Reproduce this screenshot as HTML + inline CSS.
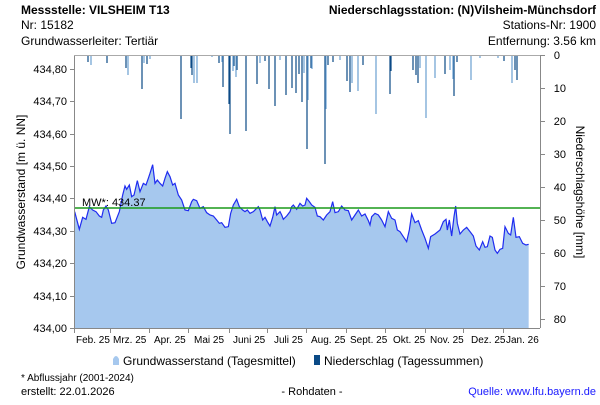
<!DOCTYPE html>
<html><head><meta charset="utf-8"><style>
body{margin:0;background:#fff;width:600px;height:400px;overflow:hidden;font-family:"Liberation Sans",Arial,sans-serif}
</style></head><body>
<svg width="600" height="400" xmlns="http://www.w3.org/2000/svg" font-family="Liberation Sans, Arial, sans-serif" font-size="11">
<text x="21" y="14" font-size="12" font-weight="bold">Messstelle: VILSHEIM T13</text>
<text x="21" y="29" font-size="12">Nr: 15182</text>
<text x="21" y="45" font-size="12">Grundwasserleiter: Tertiär</text>
<text x="596" y="14" font-size="12" font-weight="bold" text-anchor="end">Niederschlagsstation: (N)Vilsheim-Münchsdorf</text>
<text x="596" y="29" font-size="12" text-anchor="end">Stations-Nr: 1900</text>
<text x="596" y="45" font-size="12" text-anchor="end">Entfernung: 3.56 km</text>

<!-- area -->
<g transform="translate(60,130) scale(0.3333333)">
<path fill="#a6c8ee" stroke="none" d="M44,245 L58,298 L68,262 L78,268 L88,230 L98,240 L108,245 L118,258 L125,262 L130,240 L138,228 L145,240 L155,280 L165,278 L178,245 L188,195 L195,168 L200,178 L208,165 L215,200 L222,195 L232,152 L240,185 L250,160 L258,165 L265,145 L270,130 L278,104 L285,160 L292,150 L300,160 L308,168 L315,145 L322,125 L330,140 L338,165 L345,160 L355,195 L365,210 L375,240 L385,242 L395,215 L400,208 L410,212 L420,235 L430,230 L440,248 L450,255 L460,258 L470,270 L478,280 L485,278 L495,292 L505,290 L512,250 L520,225 L530,208 L538,230 L548,240 L555,245 L562,240 L570,250 L580,245 L590,235 L595,230 L600,240 L608,270 L615,262 L622,275 L630,288 L638,262 L645,230 L650,255 L660,245 L665,255 L670,268 L680,258 L690,245 L695,230 L700,225 L710,238 L720,220 L728,228 L735,225 L740,205 L748,215 L755,225 L765,232 L772,258 L780,260 L790,270 L800,255 L810,245 L818,215 L825,248 L835,245 L845,228 L855,240 L865,242 L875,270 L885,255 L895,240 L905,258 L915,252 L925,272 L930,285 L935,260 L945,250 L955,255 L965,270 L975,290 L985,245 L995,265 L1005,270 L1012,300 L1020,305 L1030,320 L1040,335 L1048,300 L1055,252 L1065,278 L1075,272 L1085,300 L1095,325 L1105,355 L1112,320 L1125,312 L1140,300 L1150,275 L1158,268 L1162,300 L1168,270 L1175,318 L1182,260 L1187,228 L1192,280 L1200,312 L1210,300 L1220,292 L1230,305 L1240,318 L1248,348 L1258,360 L1268,335 L1275,352 L1282,350 L1290,318 L1297,322 L1305,360 L1312,370 L1320,358 L1328,355 L1335,290 L1345,310 L1352,315 L1360,262 L1368,322 L1378,320 L1388,340 L1398,345 L1406,343 L1406,594 L44,594 Z"/>
<path fill="none" stroke="#1f2cf0" stroke-width="1.2" vector-effect="non-scaling-stroke" d="M44,245 L58,298 L68,262 L78,268 L88,230 L98,240 L108,245 L118,258 L125,262 L130,240 L138,228 L145,240 L155,280 L165,278 L178,245 L188,195 L195,168 L200,178 L208,165 L215,200 L222,195 L232,152 L240,185 L250,160 L258,165 L265,145 L270,130 L278,104 L285,160 L292,150 L300,160 L308,168 L315,145 L322,125 L330,140 L338,165 L345,160 L355,195 L365,210 L375,240 L385,242 L395,215 L400,208 L410,212 L420,235 L430,230 L440,248 L450,255 L460,258 L470,270 L478,280 L485,278 L495,292 L505,290 L512,250 L520,225 L530,208 L538,230 L548,240 L555,245 L562,240 L570,250 L580,245 L590,235 L595,230 L600,240 L608,270 L615,262 L622,275 L630,288 L638,262 L645,230 L650,255 L660,245 L665,255 L670,268 L680,258 L690,245 L695,230 L700,225 L710,238 L720,220 L728,228 L735,225 L740,205 L748,215 L755,225 L765,232 L772,258 L780,260 L790,270 L800,255 L810,245 L818,215 L825,248 L835,245 L845,228 L855,240 L865,242 L875,270 L885,255 L895,240 L905,258 L915,252 L925,272 L930,285 L935,260 L945,250 L955,255 L965,270 L975,290 L985,245 L995,265 L1005,270 L1012,300 L1020,305 L1030,320 L1040,335 L1048,300 L1055,252 L1065,278 L1075,272 L1085,300 L1095,325 L1105,355 L1112,320 L1125,312 L1140,300 L1150,275 L1158,268 L1162,300 L1168,270 L1175,318 L1182,260 L1187,228 L1192,280 L1200,312 L1210,300 L1220,292 L1230,305 L1240,318 L1248,348 L1258,360 L1268,335 L1275,352 L1282,350 L1290,318 L1297,322 L1305,360 L1312,370 L1320,358 L1328,355 L1335,290 L1345,310 L1352,315 L1360,262 L1368,322 L1378,320 L1388,340 L1398,345 L1406,343"/>
</g>

<!-- precipitation bars -->
<g stroke-width="1.2">
<g stroke="#0b4a86">
<path d="M88,55V62 M107,55V63 M126,55V68 M142,55V89 M147,55V64 M181,55V119 M191,55V68 M192,55V75 M219,55V63 M223,55V87 M229,55V104 M230,55V134 M234,55V66 M237,55V70 M246,55V131 M257,55V84 M265,55V61 M269,55V89 M275,55V106 M286,55V95 M292,55V88 M296,55V93 M299,55V74 M302,55V102 M307,55V149 M311,55V68 M325,55V164 M328,55V65 M333,55V62 M347,55V81 M350,55V92 M363,55V65 M390,55V94 M391,55V71 M413,55V70 M416,55V75 M418,55V83 M445,55V74 M454,55V96 M457,55V62 M504,55V61 M515,55V70 M517,55V80"/>
</g>
<g stroke="#6a9fd0">
<path d="M91,55V65 M128,55V75 M144,55V63 M150,55V59 M194,55V83 M233,55V71 M236,55V77 M260,55V63 M280,55V60 M304,55V73 M308,55V100 M312,55V69 M326,55V109 M352,55V83 M358,55V91 M376,55V114 M426,55V118 M435,55V78 M453,55V79 M471,55V80 M512,55V83 M420,55V68 M450,55V70 M197,55V83 M212,55V57 M222,55V62 M340,55V60 M480,55V58 M498,55V58"/>
</g>
</g>

<!-- MW line -->
<line x1="74" y1="208" x2="540" y2="208" stroke="#1a9a1a" stroke-width="1.6"/>
<text x="82" y="206" font-size="11">MW*: 434.37</text>

<!-- axes -->
<line x1="74.5" y1="55" x2="74.5" y2="328" stroke="#888"/>
<line x1="74" y1="328.5" x2="540" y2="328.5" stroke="#888"/>
<line x1="540.5" y1="55" x2="540.5" y2="328" stroke="#888"/>
<line x1="74" y1="55.5" x2="540" y2="55.5" stroke="#aaa"/>
<g stroke="#888">
<path d="M70,69.5H74 M70,101.5H74 M70,134.5H74 M70,166.5H74 M70,198.5H74 M70,231.5H74 M70,263.5H74 M70,296.5H74 M70,328.5H74"/>
<path d="M540,55.5H545 M540,88.5H545 M540,121.5H545 M540,154.5H545 M540,187.5H545 M540,220.5H545 M540,253.5H545 M540,286.5H545 M540,319.5H545"/>
<path d="M74.5,328V333 M110.5,328V333 M149.5,328V333 M188.5,328V333 M229.5,328V333 M267.5,328V333 M306.5,328V333 M346.5,328V333 M385.5,328V333 M425.5,328V333 M463.5,328V333 M503.5,328V333"/>
</g>
<g text-anchor="end" font-size="11">
<text x="67" y="73">434,80</text><text x="67" y="105">434,70</text><text x="67" y="138">434,60</text><text x="67" y="170">434,50</text><text x="67" y="202">434,40</text><text x="67" y="235">434,30</text><text x="67" y="267">434,20</text><text x="67" y="300">434,10</text><text x="67" y="332">434,00</text>
</g>
<g text-anchor="end" font-size="11">
<text x="560" y="59">0</text><text x="566" y="92">10</text><text x="566" y="125">20</text><text x="566" y="158">30</text><text x="566" y="191">40</text><text x="566" y="224">50</text><text x="566" y="257">60</text><text x="566" y="290">70</text><text x="566" y="323">80</text>
</g>
<g font-size="10">
<text x="76" y="343">Feb. 25</text><text x="113" y="343">Mrz. 25</text><text x="154" y="343">Apr. 25</text><text x="194" y="343">Mai 25</text><text x="233" y="343">Juni 25</text><text x="274" y="343">Juli 25</text><text x="311" y="343">Aug. 25</text><text x="350" y="343">Sept. 25</text><text x="393" y="343">Okt. 25</text><text x="430" y="343">Nov. 25</text><text x="471" y="343">Dez. 25</text><text x="506" y="343">Jan. 26</text>
</g>
<text transform="translate(25,192) rotate(-90)" text-anchor="middle" font-size="12">Grundwasserstand [m ü. NN]</text>
<text transform="translate(576,192) rotate(90)" text-anchor="middle" font-size="12">Niederschlagshöhe [mm]</text>

<!-- legend -->
<path d="M113,365 L113,359 Q116,353 119,359 L119,365 Z" fill="#a6c8ee"/>
<text x="123" y="365" font-size="12">Grundwasserstand (Tagesmittel)</text>
<rect x="314" y="355" width="6" height="10" fill="#0b4a86"/>
<text x="324" y="365" font-size="12">Niederschlag (Tagessummen)</text>

<text x="21" y="381" font-size="10">* Abflussjahr (2001-2024)</text>
<text x="21" y="395" font-size="11">erstellt:  22.01.2026</text>
<text x="312" y="395" font-size="11" text-anchor="middle">- Rohdaten -</text>
<text x="596" y="395" font-size="11" text-anchor="end" fill="#1a1aff">Quelle: www.lfu.bayern.de</text>
</svg>
</body></html>
